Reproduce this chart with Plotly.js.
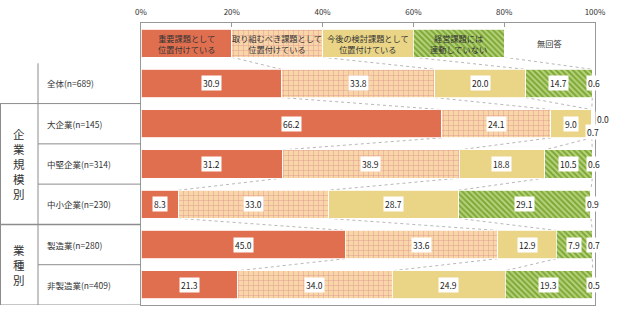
<!DOCTYPE html>
<html><head><meta charset="utf-8">
<script src="https://cdn.plot.ly/plotly-3.0.1.min.js"></script>
<style>html,body{margin:0;padding:0;background:#fff}#chart{width:624px;height:322px}</style>
</head><body><div id="chart"></div>
<script>
const categories = ['全体(n=689)','大企業(n=145)','中堅企業(n=314)','中小企業(n=230)','製造業(n=280)','非製造業(n=409)'];
const seriesNames = ['重要課題として<br>位置付けている','取り組むべき課題として<br>位置付けている','今後の検討課題として<br>位置付けている','経営課題には<br>連動していない','無回答'];
const s1 = [30.9,66.2,31.2,8.3,45.0,21.3];
const s2 = [33.8,24.1,38.9,33.0,33.6,34.0];
const s3 = [20.0,9.0,18.8,28.7,12.9,24.9];
const s4 = [14.7,0.0,10.5,29.1,7.9,19.3];
const s5 = [0.6,0.7,0.6,0.9,0.7,0.5];
const groups = [{text:'企業規模別', rows:[1,3]},{text:'業種別', rows:[4,5]}];
const tickVals = [0,20,40,60,80,100];
const tickText = ['0%','20%','40%','60%','80%','100%'];
const legendShare = 20;

const series = [s1,s2,s3,s4,s5];
const FONT = '"Noto Sans CJK JP", "Noto Sans", sans-serif';
const styles = [
  {color:'#E06F50'},
  {color:'#F8D6A8', pattern:{shape:'+', bgcolor:'#F8D6A8', fgcolor:'#E09A94', size:5, solidity:0.18}},
  {color:'#F0DC88', pattern:{shape:'.', bgcolor:'#F3E2A2', fgcolor:'#E0C562', size:2, solidity:0.5}},
  {color:'#8DB53C', pattern:{shape:'\\', bgcolor:'#B7D37C', fgcolor:'#7DA736', size:4, solidity:0.5}},
  {color:'#FFFFFF'}
];
const L = 141, R = 595, T = 23, B = 305;
const W = R - L;
const px = p => (p - L) / W;
const rowY = i => i + 1; // legend row at 0
const BW = 0.7;

const traces = series.map((s, k) => {
  const m = {color: styles[k].color, line:{color:'#FFFFFF', width:0.8}};
  if (styles[k].pattern) m.pattern = Object.assign({fillmode:'replace'}, styles[k].pattern);
  return {
    type:'bar', orientation:'h',
    x:[legendShare].concat(s),
    y:[0].concat(categories.map((c,i)=>rowY(i))),
    width:BW, marker:m, hoverinfo:'skip', showlegend:false
  };
});

const annotations = [];
const shapes = [];
// legend text
seriesNames.forEach((n,k)=>{
  annotations.push({x:legendShare*k+legendShare/2, y:0, xref:'x', yref:'y', text:n, showarrow:false,
    font:{family:FONT, size:8.2, color:'#333'}, align:'center'});
});
// data labels
categories.forEach((c,i)=>{
  let cum = 0;
  series.forEach((s,k)=>{
    const v = s[i];
    const a = {x:cum + v/2, y:rowY(i), xref:'x', yref:'y', text:v.toFixed(1), showarrow:false,
      bgcolor:'#FFFFFF', borderpad:1, font:{family:FONT, size:8.5, color:'#222'}};
    if (i === 1 && k === 3) { a.xshift = 11; a.yshift = 5; }
    if (i === 1 && k === 4) { a.yshift = -8; }
    annotations.push(a);
    cum += v;
  });
});
// series connector lines
const cumRows = [[20,40,60,80]].concat(categories.map((c,i)=>{
  let cum=0; return series.slice(0,4).map(s=>{cum+=s[i]; return cum;});
}));
for (let r=0;r<cumRows.length-1;r++){
  for (let k=0;k<4;k++){
    shapes.push({type:'line', xref:'x', yref:'y', x0:cumRows[r][k], y0:r+BW/2, x1:cumRows[r+1][k], y1:r+1-BW/2,
      line:{color:'#B8B8B8', width:1, dash:'dot'}, layer:'below'});
  }
}
// row labels
categories.forEach((c,i)=>{
  annotations.push({x:px(45), y:rowY(i), xref:'paper', yref:'y', xanchor:'left', text:c, showarrow:false,
    font:{family:FONT, size:8.5, color:'#333'}});
});
// group labels
groups.forEach(g=>{
  annotations.push({x:px(19), y:(rowY(g.rows[0])+rowY(g.rows[1]))/2, xref:'paper', yref:'y', xanchor:'center',
    text:g.text.split('').join('<br>'), showarrow:false, font:{family:FONT, size:11.5, color:'#333'}});
});
// table lines
const lc = '#8C8C8C';
const hl = (y, x0p, w) => shapes.push({type:'line', xref:'paper', yref:'y', x0:px(x0p), x1:px(L), y0:y, y1:y, line:{color:lc, width:w||1}});
hl(1.5, 0); hl(2.5, 38); hl(3.5, 38); hl(4.5, 0, 1.5); hl(5.5, 38); hl(6.5, 0);
shapes.push({type:'line', xref:'paper', yref:'y', x0:px(38), x1:px(38), y0:0.5, y1:6.5, line:{color:lc, width:1}});
shapes.push({type:'line', xref:'paper', yref:'y', x0:px(0.5), x1:px(0.5), y0:1.5, y1:6.5, line:{color:lc, width:1}});

const layout = {
  width:624, height:322, margin:{l:L, r:624-R, t:T, b:322-B, pad:0},
  paper_bgcolor:'#fff', plot_bgcolor:'#fff', barmode:'stack', bargap:0,
  font:{family:FONT, size:9, color:'#333'},
  xaxis:{range:[0,100], side:'top', tickvals:tickVals, ticktext:tickText, showgrid:false, zeroline:false,
    showline:true, mirror:true, linecolor:'#999', linewidth:1, ticks:'inside', ticklen:4, tickcolor:'#999',
    tickfont:{family:FONT, size:8, color:'#333'}, ticklabelstandoff:4, fixedrange:true},
  yaxis:{range:[6.5,-0.5], showgrid:false, zeroline:false, showticklabels:false, showline:true, mirror:true,
    linecolor:'#999', linewidth:1, ticks:'', fixedrange:true},
  annotations:annotations, shapes:shapes, hovermode:false
};
Plotly.newPlot('chart', traces, layout, {staticPlot:true, displayModeBar:false});
</script></body></html>
